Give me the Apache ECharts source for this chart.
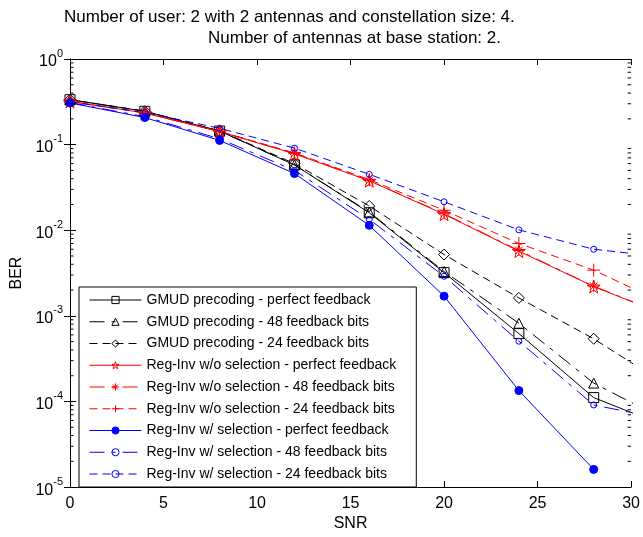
<!DOCTYPE html>
<html>
<head>
<meta charset="utf-8">
<script src="https://cdn.jsdelivr.net/npm/echarts@6/dist/echarts.min.js"></script>
<style>
html,body{margin:0;padding:0;background:#fff;}
#c{width:643px;height:537px;}
</style>
</head>
<body>
<div id="c"></div>
<script>
// SNR points (last point lies beyond the visible axis; lines run out to the edge)
const snr = [0, 4, 8, 12, 16, 20, 24, 28, 32];

const gmudPerfect = [0.335, 0.245, 0.144, 0.058, 0.0160, 0.0032, 0.00062, 0.000111, 0.000050];
const gmud48      = [0.335, 0.245, 0.144, 0.058, 0.0163, 0.0033, 0.00082, 0.000164, 0.000058];
const gmud24      = [0.335, 0.246, 0.145, 0.060, 0.0192, 0.0052, 0.00162, 0.00054, 0.000150];

const riPerfect = [0.320, 0.234, 0.142, 0.078, 0.0378, 0.0154, 0.0057, 0.00220, 0.00099];
const ri48      = [0.320, 0.234, 0.142, 0.079, 0.0380, 0.0156, 0.0058, 0.00222, 0.00100];
const ri24      = [0.320, 0.235, 0.143, 0.080, 0.0390, 0.0171, 0.0070, 0.00342, 0.00133];

const selPerfect = [0.307, 0.207, 0.112, 0.046, 0.0114, 0.0017, 0.000134, 0.0000161];
const sel48      = [0.310, 0.212, 0.117, 0.050, 0.0134, 0.0029, 0.000506, 0.000091, 0.000061];
const sel24      = [0.315, 0.238, 0.155, 0.091, 0.045, 0.0215, 0.0101, 0.0060, 0.0048];

const xTicks = [0, 5, 10, 15, 20, 25, 30];
const minorTickValues = [];
for (let e = -5; e < 0; e++) for (let m = 2; m <= 9; m++) minorTickValues.push(m * Math.pow(10, e));

const titleLine1 = 'Number of user: 2 with 2 antennas and constellation size: 4.';
const titleLine2 = 'Number of antennas at base station: 2.';

const FONT = '"Liberation Sans", Arial, Helvetica, sans-serif';
const STAR = 'path://M0,-1L0.2245,-0.309L0.951,-0.309L0.363,0.118L0.588,0.809L0,0.382L-0.588,0.809L-0.363,0.118L-0.951,-0.309L-0.2245,-0.309Z';
const ASTER = 'path://M0,-1L0,1M-1,0L1,0M-0.7,-0.7L0.7,0.7M-0.7,0.7L0.7,-0.7';
const PLUS = 'path://M0,-1L0,1M-1,0L1,0';
const DASH = [8, 5];
const DASHDOT = [15, 7, 4, 7];

function mk(name, vals, color, dash, symbol, size, filled) {
  return {
    name: name,
    type: 'line',
    data: vals.map((v, i) => [snr[i], v]),
    symbol: symbol,
    symbolSize: size,
    showSymbol: true,
    clip: true,
    animation: false,
    lineStyle: { color: color, width: 1, type: dash },
    itemStyle: { color: filled ? color : 'rgba(0,0,0,0)', borderColor: color, borderWidth: 1 },
    emphasis: { disabled: true },
    z: 3
  };
}

const series = [
  mk('GMUD precoding - perfect feedback', gmudPerfect, '#000000', 'solid', 'rect', 10, false),
  mk('GMUD precoding - 48 feedback bits', gmud48, '#000000', DASHDOT, 'triangle', 10, false),
  mk('GMUD precoding - 24 feedback bits', gmud24, '#000000', DASH, 'diamond', 11, false),
  mk('Reg-Inv w/o selection - perfect feedback', riPerfect, '#ff0000', 'solid', STAR, 13, false),
  mk('Reg-Inv w/o selection - 48 feedback bits', ri48, '#ff0000', DASHDOT, ASTER, 11, false),
  mk('Reg-Inv w/o selection - 24 feedback bits', ri24, '#ff0000', DASH, PLUS, 13, false),
  mk('Reg-Inv w/ selection - perfect feedback', selPerfect, '#0000ff', 'solid', 'circle', 8, true),
  mk('Reg-Inv w/ selection - 48 feedback bits', sel48, '#0000ff', DASHDOT, 'circle', 6, false),
  mk('Reg-Inv w/ selection - 24 feedback bits', sel24, '#0000ff', DASH, 'circle', 6, false)
];

// minor log ticks on left and right edges, positioned through the axis scales
series.push({
  type: 'custom',
  silent: true,
  animation: false,
  clip: false,
  z: 5,
  data: minorTickValues.map(v => [0, v]),
  renderItem: function (params, api) {
    const v = api.value(1);
    const pl = api.coord([0, v]);
    const pr = api.coord([30, v]);
    return {
      type: 'group',
      children: [
        { type: 'line', shape: { x1: pl[0], y1: pl[1], x2: pl[0] + 3.5, y2: pl[1] }, style: { stroke: '#000', lineWidth: 1 } },
        { type: 'line', shape: { x1: pr[0], y1: pr[1], x2: pr[0] - 3.5, y2: pr[1] }, style: { stroke: '#000', lineWidth: 1 } }
      ]
    };
  }
});

const logAxisBase = {
  type: 'log',
  logBase: 10,
  min: 1e-5,
  max: 1,
  splitNumber: 5,
  splitLine: { show: false },
  axisLine: { show: true, lineStyle: { color: '#000', width: 1 } },
  axisTick: { show: true, inside: true, length: 6, lineStyle: { color: '#000' } },
  minorTick: { show: false }
};

const linAxisBase = {
  type: 'value',
  min: 0,
  max: 30,
  interval: 5,
  splitLine: { show: false },
  axisLine: { show: true, onZero: false, lineStyle: { color: '#000', width: 1 } },
  axisTick: { show: true, inside: true, length: 6, lineStyle: { color: '#000' } }
};

const chart = echarts.init(document.getElementById('c'), null, { renderer: 'canvas' });
chart.setOption({
  backgroundColor: '#ffffff',
  animation: false,
  title: [
    { text: titleLine1, left: 64, top: 9, padding: 0, textStyle: { fontSize: 17, fontWeight: 'normal', color: '#000', fontFamily: FONT } },
    { text: titleLine2, left: 208, top: 30, padding: 0, textStyle: { fontSize: 17, fontWeight: 'normal', color: '#000', fontFamily: FONT } }
  ],
  grid: { left: 70, right: 9, top: 59, bottom: 42, containLabel: false },
  xAxis: [
    Object.assign({}, linAxisBase, {
      position: 'bottom',
      name: 'SNR',
      nameLocation: 'middle',
      nameGap: 25,
      nameTextStyle: { fontSize: 16, color: '#000', fontFamily: FONT },
      axisLabel: {
        show: true, margin: 8, fontSize: 16, color: '#000', fontFamily: FONT,
        formatter: function (v) { return xTicks.indexOf(v) >= 0 ? String(v) : ''; }
      }
    }),
    Object.assign({}, linAxisBase, { position: 'top', axisLabel: { show: false } })
  ],
  yAxis: [
    Object.assign({}, logAxisBase, {
      position: 'left',
      name: 'BER',
      nameLocation: 'middle',
      nameGap: 43,
      nameRotate: 90,
      nameTextStyle: { fontSize: 16, color: '#000', fontFamily: FONT },
      axisLabel: {
        show: true, margin: 7, color: '#000', fontFamily: FONT,
        formatter: function (v) {
          const e = Math.round(Math.log10(v));
          return '{b|10}{s|' + e + '}';
        },
        rich: {
          b: { fontSize: 16, fontFamily: FONT, color: '#000', lineHeight: 22, verticalAlign: 'bottom' },
          s: { fontSize: 11, fontFamily: FONT, color: '#000', lineHeight: 22, verticalAlign: 'top' }
        }
      }
    }),
    Object.assign({}, logAxisBase, { position: 'right', axisLabel: { show: false } })
  ],
  legend: {
    show: true,
    orient: 'vertical',
    left: 79,
    top: 287,
    padding: [5, 20, 5, 10],
    itemWidth: 52,
    itemHeight: 9,
    itemGap: 5.75,
    backgroundColor: '#ffffff',
    borderColor: '#000000',
    borderWidth: 1,
    borderRadius: 0,
    selectedMode: false,
    lineStyle: { width: 1 },
    itemStyle: { borderWidth: 1 },
    textStyle: { fontSize: 14, color: '#000', fontFamily: FONT, lineHeight: 16 },
    data: series.slice(0, 9).map(s => s.name)
  },
  series: series
});
</script>
</body>
</html>
